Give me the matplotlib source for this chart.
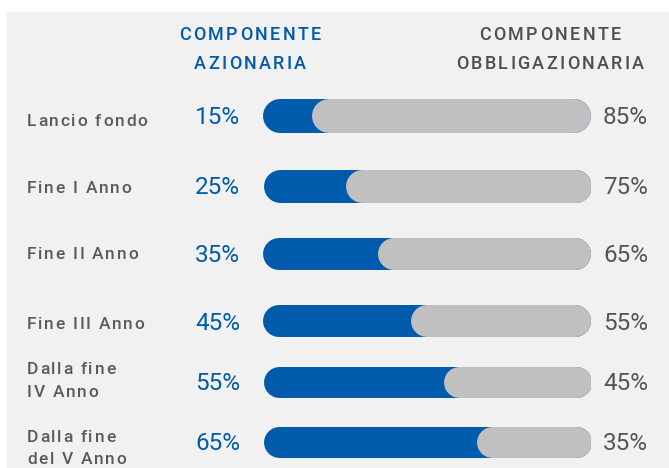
import matplotlib
matplotlib.use("Agg")
import matplotlib.pyplot as plt
from matplotlib.patches import Rectangle
from matplotlib.font_manager import FontProperties
from matplotlib.textpath import TextToPath

# ---- data ----
categories = ["Lancio fondo", "Fine I Anno", "Fine II Anno", "Fine III Anno",
              "Dalla fine\nIV Anno", "Dalla fine\ndel V Anno"]
equity = [15, 25, 35, 45, 55, 65]
bonds = [85, 75, 65, 55, 45, 35]
header_left = "COMPONENTE\nAZIONARIA"
header_right = "COMPONENTE\nOBBLIGAZIONARIA"

# ---- layout / style ----
W, H = 669, 468
BLUE = "#005BAC"
GREY = "#C0C0C0"
TXT = "#555555"
PANEL = "#F1F1F1"
row_y = [116, 186, 254, 321, 382, 442]      # pixel centres of rows
label_y = [[120], [187], [253], [323], [368, 391], [436, 458]]
bar_h_px = [34, 33, 32, 32, 31, 31]
bar_x0, bar_x1 = 263, 591
FAM = ["Roboto", "DejaVu Sans"]

plt.rcParams["font.family"] = FAM
fig = plt.figure(figsize=(W / 100, H / 100), dpi=100)
fig.patch.set_facecolor("white")

bg = fig.add_axes([0, 0, 1, 1])
bg.set_xlim(0, W)
bg.set_ylim(H, 0)
bg.axis("off")
bg.add_patch(Rectangle((7, 12), W - 7, H - 12, color=PANEL, zorder=0))

t2p = TextToPath()


def spaced(x, y, s, size, spacing, ha="left", weight="normal", color=TXT):
    """Draw string s with extra letter spacing (pixels); y = vertical centre of caps."""
    prop = FontProperties(family=FAM, size=size, weight=weight)
    scale = 100 / 72.0

    def wpx(t):
        if not t:
            return 0.0
        return t2p.get_text_width_height_descent(t, prop, ismath=False)[0] * scale

    total = wpx(s) + spacing * (len(s) - 1)
    if ha == "center":
        x0 = x - total / 2
    elif ha == "right":
        x0 = x - total
    else:
        x0 = x
    cap = size * scale * 0.711
    yb = y + cap / 2
    for k, ch in enumerate(s):
        bg.text(x0 + wpx(s[:k]) + k * spacing, yb, ch, ha="left", va="baseline",
                fontproperties=prop, color=color)


# headers
for (cx, txt, col) in [(250, header_left, BLUE), (550, header_right, "#4F4F4F")]:
    for line, yy in zip(txt.split("\n"), [34, 63]):
        spaced(cx, yy, line, 13, 2.3, ha="center", weight="medium", color=col)

# bars
ax = fig.add_axes([bar_x0 / W, 0, (bar_x1 - bar_x0) / W, 1])
ax.set_xlim(0, 100)
ax.set_ylim(H, 0)
ax.axis("off")
ax.patch.set_alpha(0)

px_per_unit = (bar_x1 - bar_x0) / 100.0
for i, (cat, e, b) in enumerate(zip(categories, equity, bonds)):
    y = row_y[i]
    hpx = bar_h_px[i]
    lw = hpx * 72 / 100.0
    r = (hpx / 2) / px_per_unit
    ax.plot([r, 100 - r], [y, y], color=BLUE, lw=lw, solid_capstyle="round", zorder=2)
    ax.plot([e + r, 100 - r], [y, y], color=GREY, lw=lw, solid_capstyle="round", zorder=3)

    for line, yy in zip(cat.split("\n"), label_y[i]):
        spaced(27, yy, line, 12.5, 1.7, ha="left", weight="medium", color="#5A5A5A")
    bg.text(240, row_y[i] + 2, f"{e}%", ha="right", va="center", color=BLUE, fontsize=17.5)
    bg.text(603, row_y[i] + 2, f"{b}%", ha="left", va="center", color=TXT, fontsize=17.5)

fig.savefig("out.png", dpi=100, facecolor="white")
